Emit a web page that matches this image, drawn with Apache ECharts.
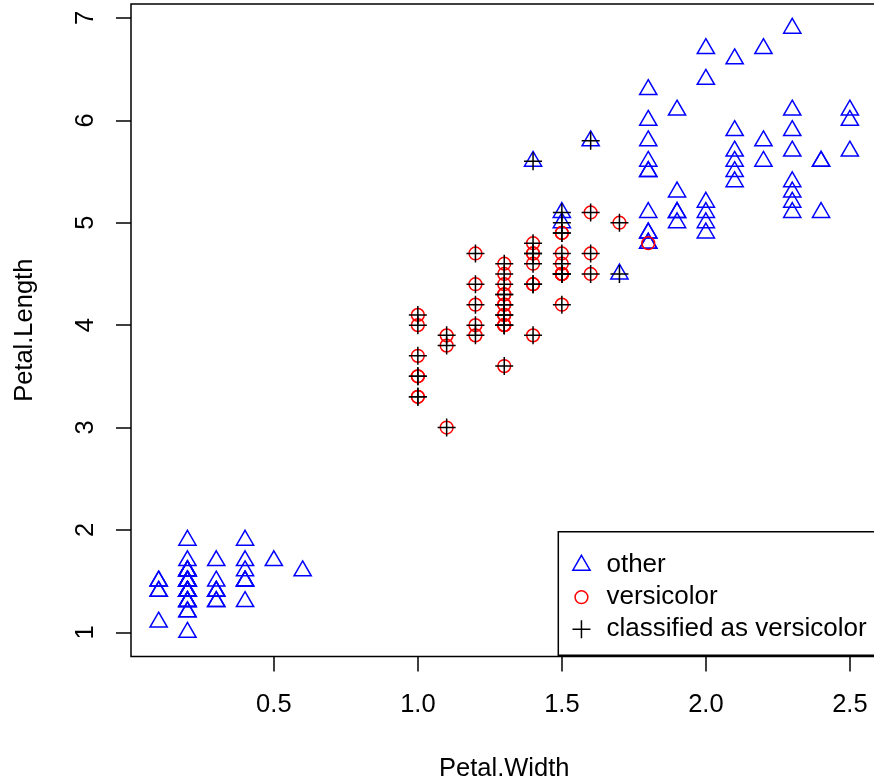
<!DOCTYPE html>
<html><head><meta charset="utf-8">
<script src="https://cdn.jsdelivr.net/npm/echarts@6/dist/echarts.min.js"></script>
<style>html,body{margin:0;padding:0;background:#fff}#c{width:874px;height:780px}</style>
</head><body><div id="c"></div>
<script>
// ---- tick labels ----
const xTicks = [0.5, 1.0, 1.5, 2.0, 2.5];
const xTickLabels = ['0.5', '1.0', '1.5', '2.0', '2.5'];
const yTicks = [1, 2, 3, 4, 5, 6, 7];
const yTickLabels = ['1', '2', '3', '4', '5', '6', '7'];
const seriesNames = ['other', 'versicolor', 'classified as versicolor'];

// ---- "other" (setosa + virginica) ----
const otherWidth = [0.2,0.2,0.2,0.2,0.2,0.4,0.3,0.2,0.2,0.1,0.2,0.2,0.1,0.1,0.2,0.4,0.4,0.3,0.3,0.3,0.2,0.4,0.2,0.5,0.2,0.2,0.4,0.2,0.2,0.2,0.2,0.4,0.1,0.2,0.2,0.2,0.2,0.1,0.2,0.2,0.3,0.3,0.2,0.6,0.4,0.3,0.2,0.2,0.2,0.2,
  2.5,1.9,2.1,1.8,2.2,2.1,1.7,1.8,1.8,2.5,2.0,1.9,2.1,2.0,2.4,2.3,1.8,2.2,2.3,1.5,2.3,2.0,2.0,1.8,2.1,1.8,1.8,1.8,2.1,1.6,1.9,2.0,2.2,1.5,1.4,2.3,2.4,1.8,1.8,2.1,2.4,2.3,1.9,2.3,2.5,2.3,1.9,2.0,2.3,1.8];
const otherLength = [1.4,1.4,1.3,1.5,1.4,1.7,1.4,1.5,1.4,1.5,1.5,1.6,1.4,1.1,1.2,1.5,1.3,1.4,1.7,1.5,1.7,1.5,1.0,1.7,1.9,1.6,1.6,1.5,1.4,1.6,1.6,1.5,1.5,1.4,1.5,1.2,1.3,1.4,1.3,1.5,1.3,1.3,1.3,1.6,1.9,1.4,1.6,1.4,1.5,1.4,
  6.0,5.1,5.9,5.6,5.8,6.6,4.5,6.3,5.8,6.1,5.1,5.3,5.5,5.0,5.1,5.3,5.5,6.7,6.9,5.0,5.7,4.9,6.7,4.9,5.7,6.0,4.8,4.9,5.6,5.8,6.1,6.4,5.6,5.1,5.6,6.1,5.6,5.5,4.8,5.4,5.6,5.1,5.1,5.9,5.7,5.2,5.0,5.2,5.4,5.1];

// ---- versicolor ----
const versicolorWidth = [1.4,1.5,1.5,1.3,1.5,1.3,1.6,1.0,1.3,1.4,1.0,1.5,1.0,1.4,1.3,1.4,1.5,1.0,1.5,1.1,1.8,1.3,1.5,1.2,1.3,1.4,1.4,1.7,1.5,1.0,1.1,1.0,1.2,1.6,1.5,1.6,1.5,1.3,1.3,1.3,1.2,1.4,1.2,1.0,1.3,1.2,1.3,1.3,1.1,1.3];
const versicolorLength = [4.7,4.5,4.9,4.0,4.6,4.5,4.7,3.3,4.6,3.9,3.5,4.2,4.0,4.7,3.6,4.4,4.5,4.1,4.5,3.9,4.8,4.0,4.9,4.7,4.3,4.4,4.8,5.0,4.5,3.5,3.8,3.7,3.9,5.1,4.5,4.5,4.7,4.4,4.1,4.0,4.4,4.6,4.0,3.3,4.2,4.2,4.2,4.3,3.0,4.1];

// ---- classified as versicolor ----
const classifiedWidth = [1.4,1.5,1.5,1.3,1.5,1.3,1.6,1.0,1.3,1.4,1.0,1.5,1.0,1.4,1.3,1.4,1.5,1.0,1.5,1.1,1.3,1.5,1.2,1.3,1.4,1.4,1.7,1.5,1.0,1.1,1.0,1.2,1.6,1.5,1.6,1.5,1.3,1.3,1.3,1.2,1.4,1.2,1.0,1.3,1.2,1.3,1.3,1.1,1.3,
  1.7,1.5,1.6,1.5,1.4];
const classifiedLength = [4.7,4.5,4.9,4.0,4.6,4.5,4.7,3.3,4.6,3.9,3.5,4.2,4.0,4.7,3.6,4.4,4.5,4.1,4.5,3.9,4.0,4.9,4.7,4.3,4.4,4.8,5.0,4.5,3.5,3.8,3.7,3.9,5.1,4.5,4.5,4.7,4.4,4.1,4.0,4.4,4.6,4.0,3.3,4.2,4.2,4.2,4.3,3.0,4.1,
  4.5,5.0,5.8,5.1,5.6];

const FONT = '"Liberation Sans", Arial, Helvetica, sans-serif';
// R-style symbol shapes in a 20x20 box centred at (10,10)
const TRI = 'path://M0,0M20,20M10,0.1L18.6,14.96L1.4,14.96Z';
const CIR = 'path://M0,0M20,20M16.375,10A6.375,6.375,0,1,1,3.625,10A6.375,6.375,0,1,1,16.375,10Z';
const PLUS = 'path://M0,0M20,20M1,10L19,10M10,1L10,19';
const pair = (xs, ys) => xs.map((x, i) => [x, ys[i]]);
const lab = (ticks, labels) => v => { const i = ticks.findIndex(t => Math.abs(t - v) < 1e-9); return i >= 0 ? labels[i] : ''; };

const chart = echarts.init(document.getElementById('c'), null, { renderer: 'canvas' });
chart.setOption({
  animation: false,
  backgroundColor: '#fff',
  grid: { left: 131, top: 4, width: 746.5, height: 652.5, show: true, borderColor: '#000', borderWidth: 1.5,
          backgroundColor: 'transparent', containLabel: false, outerBoundsMode: 'none' },
  xAxis: {
    type: 'value', min: 0.004, max: 2.596,
    name: 'Petal.Width', nameLocation: 'middle', nameGap: 99,
    nameTextStyle: { fontFamily: FONT, fontSize: 25.5, color: '#000' },
    axisLine: { show: false }, splitLine: { show: false },
    axisTick: { show: true, customValues: xTicks, length: 15, lineStyle: { color: '#000', width: 1.5 } },
    axisLabel: { customValues: xTicks, formatter: lab(xTicks, xTickLabels), fontFamily: FONT, fontSize: 25.5, color: '#000', margin: 35 }
  },
  yAxis: {
    type: 'value', min: 0.764, max: 7.136,
    name: 'Petal.Length', nameLocation: 'middle', nameGap: 93,
    nameTextStyle: { fontFamily: FONT, fontSize: 25.5, color: '#000' },
    axisLine: { show: false }, splitLine: { show: false },
    axisTick: { show: true, customValues: yTicks, length: 15, lineStyle: { color: '#000', width: 1.5 } },
    axisLabel: { customValues: yTicks, formatter: lab(yTicks, yTickLabels), rotate: 90, fontFamily: FONT, fontSize: 25.5, color: '#000', margin: 32 }
  },
  legend: {
    orient: 'vertical', left: 558.3, top: 531.7, backgroundColor: '#fff',
    borderColor: '#000', borderWidth: 1.5, borderRadius: 0,
    padding: [20.5, 40, 13, 12.4], itemGap: 6, itemWidth: 40, itemHeight: 20,
    selectedMode: false,
    itemStyle: { borderWidth: 1.5, opacity: 1 },
    textStyle: { fontFamily: FONT, fontSize: 26, color: '#000' },
    data: [
      { name: seriesNames[0], icon: TRI },
      { name: seriesNames[1], icon: CIR },
      { name: seriesNames[2], icon: PLUS }
    ]
  },
  series: [
    { name: seriesNames[0], type: 'scatter', symbol: TRI, symbolSize: 20,
      itemStyle: { color: 'transparent', borderColor: '#0000FF', borderWidth: 1.5, opacity: 1 },
      emphasis: { disabled: true }, data: pair(otherWidth, otherLength) },
    { name: seriesNames[1], type: 'scatter', symbol: CIR, symbolSize: 20,
      itemStyle: { color: 'transparent', borderColor: '#FF0000', borderWidth: 1.5, opacity: 1 },
      emphasis: { disabled: true }, data: pair(versicolorWidth, versicolorLength) },
    { name: seriesNames[2], type: 'scatter', symbol: PLUS, symbolSize: 20,
      itemStyle: { color: 'transparent', borderColor: '#000000', borderWidth: 1.5, opacity: 1 },
      emphasis: { disabled: true }, data: pair(classifiedWidth, classifiedLength) }
  ]
});
</script></body></html>
